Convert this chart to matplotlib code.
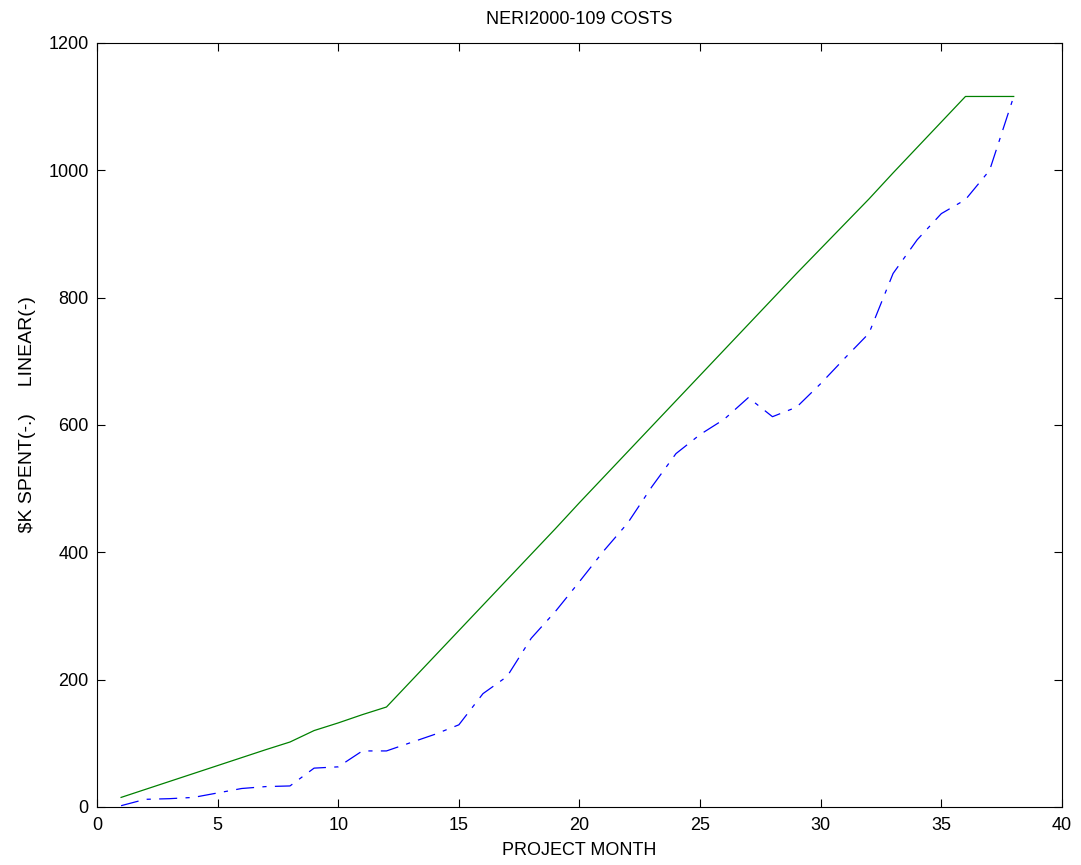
import matplotlib
matplotlib.use('Agg')
import matplotlib.pyplot as plt

# monthly data
months = list(range(1, 39))
linear = [15, 27.5, 40, 52.5, 65, 77.5, 90, 102, 120, 132, 145, 157,
          197, 237, 277, 317, 357, 397, 437, 478, 518, 558, 598, 638,
          678, 718, 758, 798, 838, 877, 916, 955, 996, 1036, 1076, 1116,
          1116, 1116]
spent = [2, 12, 13, 15, 22, 29, 32, 33, 61, 63, 88, 88,
         101, 114, 129, 178, 205, 265, 307, 354, 402, 446, 503, 555,
         585, 609, 643, 613, 628, 665, 705, 744, 838, 891, 932, 954,
         1000, 1116]

plt.rcParams['font.family'] = ['Liberation Sans', 'DejaVu Sans']
plt.rcParams['font.size'] = 13
plt.rcParams['lines.scale_dashes'] = False

fig = plt.figure(figsize=(10.81, 8.65), dpi=100)
ax = fig.add_axes([0.0897, 0.0671, 0.8927, 0.8832])

ax.plot(months, linear, color='#008000', linewidth=0.9)
ax.plot(months, spent, color='#0000ff', linewidth=0.9,
        linestyle=(0, (13, 6, 3, 6)))

ax.set_xlim(0, 40)
ax.set_ylim(0, 1200)
ax.set_xticks(range(0, 41, 5))
ax.set_yticks(range(0, 1201, 200))
ax.tick_params(direction='in', top=True, right=True, length=6, width=0.8,
               labelsize=13, pad=7)
ax.tick_params(axis='y', pad=6)
for s in ax.spines.values():
    s.set_linewidth(0.8)

ax.set_title('NERI2000-109 COSTS', fontsize=13, pad=14)
ax.set_xlabel('PROJECT MONTH', fontsize=13, labelpad=6)
ax.set_ylabel('    \\$K SPENT(-.)     LINEAR(-)', fontsize=14, labelpad=9)

fig.savefig('out.png', dpi=100)
